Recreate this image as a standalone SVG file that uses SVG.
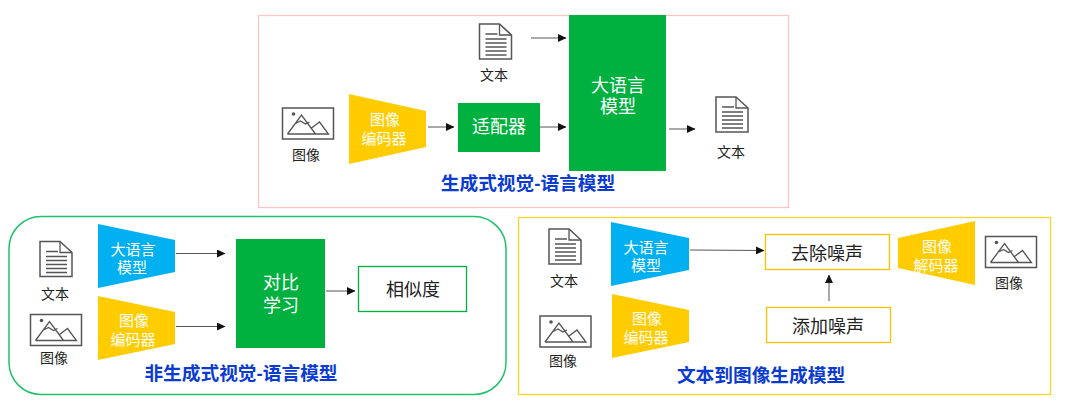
<svg xmlns="http://www.w3.org/2000/svg" width="1080" height="410" viewBox="0 0 1080 410">
<style>
text{font-family:"Liberation Sans","Noto Sans CJK SC",sans-serif;text-anchor:middle}
.l{font-size:14px;fill:#222}
.w{font-size:15px;fill:#fff}
.wb{font-size:18px;fill:#fff}
.t{font-size:18.700px;font-weight:700;fill:#0b3bd0}
.b{font-size:18px;fill:#222}
.yel{fill:#ffcc00}.blu{fill:#00b0f0}.grn{fill:#00b140}
.ic{fill:#fff;stroke:#555;stroke-width:1.500}
.in{fill:none;stroke:#555;stroke-width:1.300}
.c{stroke:#555;stroke-width:1;fill:none;marker-end:url(#a)}
</style>
<defs>
<marker id="a" markerUnits="userSpaceOnUse" markerWidth="9" markerHeight="8" refX="8" refY="4" orient="auto"><path d="M0 0L8.500 4L0 8Z" fill="#111"/></marker>
<g id="doc"><path class="ic" d="M0 0H20L32 11V35H0Z"/><path class="in" d="M20 0V11H32M6 10H18M6 15H27M6 19H27M6 23H27M6 27H27M6 31H27"/></g>
<g id="img"><rect class="ic" x="0" y="0" width="51" height="31"/><circle cx="11" cy="6" r="1.800" fill="#555"/><path class="in" d="M5 26H46L37 14L29 20M5 26L19 7L33 26M12 16L18 13L23 16L27 14"/></g>
</defs>

<rect id="panel-top" x="258.500" y="15.500" width="530" height="192" fill="#fff" stroke="#ffc6c6" stroke-width="1.300"/>
<rect id="panel-left" x="9" y="216.500" width="497" height="178" rx="32" fill="#fff" stroke="#1fc16b" stroke-width="1.500"/>
<rect id="panel-right" x="518.500" y="217.500" width="532" height="177" fill="#fff" stroke="#ffd429" stroke-width="1.300"/>

<g id="connectors">
<path class="c" d="M531 38H566"/>
<path class="c" d="M428 127H454"/>
<path class="c" d="M540 127H566"/>
<path class="c" d="M669 129H695"/>
<path class="c" d="M176 253.500H225"/>
<path class="c" d="M176 326.500H225"/>
<path class="c" d="M326 291H355"/>
<path class="c" d="M690 250L764 250.500"/>
<path class="c" d="M829 301V275"/>
</g>

<g id="doc-top"><use href="#doc" x="479.500" y="24"/><text class="l" x="494" y="80">文本</text></g>
<g id="img-top"><use href="#img" x="282.500" y="108"/><text class="l" x="306" y="160">图像</text></g>
<g id="enc-top"><path class="yel" d="M349 94L426 111V147L349 164Z"/><text class="w" x="385" y="125">图像</text><text class="w" x="384" y="144">编码器</text></g>
<g id="adapter"><rect class="grn" x="458" y="103" width="82" height="49"/><text class="wb" x="499" y="133">适配器</text></g>
<g id="llm-top"><rect class="grn" x="569" y="15" width="97" height="156"/><text class="wb" x="618" y="92">大语言</text><text class="wb" x="618" y="113">模型</text></g>
<g id="doc-out"><use href="#doc" x="716" y="97"/><text class="l" x="731" y="157">文本</text></g>
<text id="title-top" class="t" x="528" y="190">生成式视觉-语言模型</text>

<g id="doc-left"><use href="#doc" x="40" y="241.500"/><text class="l" x="55" y="299">文本</text></g>
<g id="img-left"><use href="#img" x="30.500" y="314.500"/><text class="l" x="54" y="363">图像</text></g>
<g id="llm-left"><path class="blu" d="M98 224L175 240V272L98 288Z"/><text class="w" x="133" y="255">大语言</text><text class="w" x="132" y="273">模型</text></g>
<g id="enc-left"><path class="yel" d="M98 296L175 312V344L98 360Z"/><text class="w" x="134" y="326">图像</text><text class="w" x="133" y="345">编码器</text></g>
<g id="contrast"><rect class="grn" x="236" y="239" width="89" height="109"/><text class="wb" x="281" y="289">对比</text><text class="wb" x="281" y="312">学习</text></g>
<g id="similarity"><rect x="358.500" y="266.500" width="108" height="45" fill="#fff" stroke="#00b140" stroke-width="1.300"/><text class="b" x="413" y="296">相似度</text></g>
<text id="title-left" class="t" x="241" y="380">非生成式视觉-语言模型</text>

<g id="doc-right"><use href="#doc" x="549" y="229"/><text class="l" x="564" y="286">文本</text></g>
<g id="img-right"><use href="#img" x="540" y="316"/><text class="l" x="563" y="366">图像</text></g>
<g id="llm-right"><path class="blu" d="M611 222L689 238V270L611 286Z"/><text class="w" x="646" y="253">大语言</text><text class="w" x="646" y="271">模型</text></g>
<g id="enc-right"><path class="yel" d="M612 294L689 310V342L612 358Z"/><text class="w" x="647" y="324">图像</text><text class="w" x="646" y="343">编码器</text></g>
<g id="denoise"><rect x="765.500" y="234.500" width="124" height="35" fill="#fff" stroke="#ffc000" stroke-width="1.300"/><text class="b" x="827" y="260">去除噪声</text></g>
<g id="addnoise"><rect x="766.500" y="307.500" width="124" height="35" fill="#fff" stroke="#ffc000" stroke-width="1.300"/><text class="b" x="828" y="333">添加噪声</text></g>
<g id="dec-right"><path class="yel" d="M898 238L975 221V285L898 268Z"/><text class="w" x="937" y="252">图像</text><text class="w" x="936" y="271">解码器</text></g>
<g id="img-right-out"><use href="#img" x="985.500" y="236.500"/><text class="l" x="1009" y="288">图像</text></g>
<text id="title-right" class="t" x="761" y="382">文本到图像生成模型</text>
</svg>
